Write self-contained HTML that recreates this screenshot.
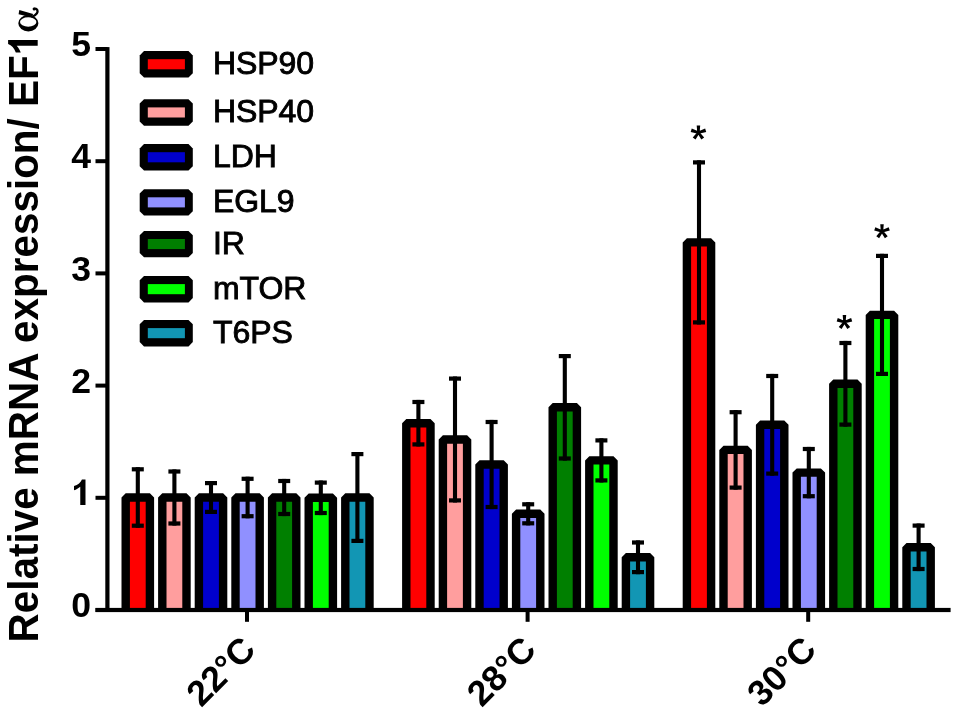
<!DOCTYPE html><html><head><meta charset="utf-8"><style>
html,body{margin:0;padding:0;background:#fff;}
svg{display:block;will-change:transform;}
text{font-family:"Liberation Sans",sans-serif;}
</style></head><body>
<svg width="957" height="715" viewBox="0 0 957 715" role="img" aria-label="Bar chart: Relative mRNA expression/ EF1α at 22°C, 28°C, 30°C"><title>Relative mRNA expression/ EF1α</title>
<defs><clipPath id="c"><rect x="0" y="0" width="957" height="610"/></clipPath></defs>
<g clip-path="url(#c)" stroke="#000" stroke-width="8.4" stroke-linejoin="bevel">
<rect x="125.70" y="497.50" width="24.2" height="122.50" fill="#ff0000"/>
<rect x="162.30" y="497.50" width="24.2" height="122.50" fill="#ff9e9e"/>
<rect x="198.90" y="497.50" width="24.2" height="122.50" fill="#0000cc"/>
<rect x="235.50" y="497.50" width="24.2" height="122.50" fill="#9090ff"/>
<rect x="272.10" y="497.50" width="24.2" height="122.50" fill="#007f00"/>
<rect x="308.70" y="497.80" width="24.2" height="122.20" fill="#00ff00"/>
<rect x="345.30" y="497.50" width="24.2" height="122.50" fill="#1296b4"/>
<rect x="406.30" y="423.20" width="24.2" height="196.80" fill="#ff0000"/>
<rect x="442.90" y="439.50" width="24.2" height="180.50" fill="#ff9e9e"/>
<rect x="479.50" y="464.50" width="24.2" height="155.50" fill="#0000cc"/>
<rect x="516.10" y="513.80" width="24.2" height="106.20" fill="#9090ff"/>
<rect x="552.70" y="407.30" width="24.2" height="212.70" fill="#007f00"/>
<rect x="589.30" y="460.40" width="24.2" height="159.60" fill="#00ff00"/>
<rect x="625.90" y="557.30" width="24.2" height="62.70" fill="#1296b4"/>
<rect x="686.90" y="242.40" width="24.2" height="377.60" fill="#ff0000"/>
<rect x="723.50" y="449.90" width="24.2" height="170.10" fill="#ff9e9e"/>
<rect x="760.10" y="424.80" width="24.2" height="195.20" fill="#0000cc"/>
<rect x="796.70" y="472.60" width="24.2" height="147.40" fill="#9090ff"/>
<rect x="833.30" y="383.80" width="24.2" height="236.20" fill="#007f00"/>
<rect x="869.90" y="314.90" width="24.2" height="305.10" fill="#00ff00"/>
<rect x="906.50" y="547.30" width="24.2" height="72.70" fill="#1296b4"/>
</g>
<g fill="#000">
<rect x="135.75" y="467.20" width="4.1" height="60.60"/>
<rect x="131.80" y="467.20" width="12" height="4.2"/>
<rect x="131.80" y="523.60" width="12" height="4.2"/>
<rect x="172.35" y="469.40" width="4.1" height="56.20"/>
<rect x="168.40" y="469.40" width="12" height="4.2"/>
<rect x="168.40" y="521.40" width="12" height="4.2"/>
<rect x="208.95" y="481.00" width="4.1" height="33.00"/>
<rect x="205.00" y="481.00" width="12" height="4.2"/>
<rect x="205.00" y="509.80" width="12" height="4.2"/>
<rect x="245.55" y="476.70" width="4.1" height="41.60"/>
<rect x="241.60" y="476.70" width="12" height="4.2"/>
<rect x="241.60" y="514.10" width="12" height="4.2"/>
<rect x="282.15" y="478.90" width="4.1" height="37.20"/>
<rect x="278.20" y="478.90" width="12" height="4.2"/>
<rect x="278.20" y="511.90" width="12" height="4.2"/>
<rect x="318.75" y="480.50" width="4.1" height="34.60"/>
<rect x="314.80" y="480.50" width="12" height="4.2"/>
<rect x="314.80" y="510.90" width="12" height="4.2"/>
<rect x="355.35" y="452.00" width="4.1" height="91.00"/>
<rect x="351.40" y="452.00" width="12" height="4.2"/>
<rect x="351.40" y="538.80" width="12" height="4.2"/>
<rect x="416.35" y="399.90" width="4.1" height="46.60"/>
<rect x="412.40" y="399.90" width="12" height="4.2"/>
<rect x="412.40" y="442.30" width="12" height="4.2"/>
<rect x="452.95" y="376.50" width="4.1" height="126.00"/>
<rect x="449.00" y="376.50" width="12" height="4.2"/>
<rect x="449.00" y="498.30" width="12" height="4.2"/>
<rect x="489.55" y="419.90" width="4.1" height="89.20"/>
<rect x="485.60" y="419.90" width="12" height="4.2"/>
<rect x="485.60" y="504.90" width="12" height="4.2"/>
<rect x="526.15" y="502.20" width="4.1" height="23.20"/>
<rect x="522.20" y="502.20" width="12" height="4.2"/>
<rect x="522.20" y="521.20" width="12" height="4.2"/>
<rect x="562.75" y="354.00" width="4.1" height="106.60"/>
<rect x="558.80" y="354.00" width="12" height="4.2"/>
<rect x="558.80" y="456.40" width="12" height="4.2"/>
<rect x="599.35" y="438.30" width="4.1" height="44.20"/>
<rect x="595.40" y="438.30" width="12" height="4.2"/>
<rect x="595.40" y="478.30" width="12" height="4.2"/>
<rect x="635.95" y="540.40" width="4.1" height="33.80"/>
<rect x="632.00" y="540.40" width="12" height="4.2"/>
<rect x="632.00" y="570.00" width="12" height="4.2"/>
<rect x="696.95" y="160.30" width="4.1" height="164.20"/>
<rect x="693.00" y="160.30" width="12" height="4.2"/>
<rect x="693.00" y="320.30" width="12" height="4.2"/>
<rect x="733.55" y="410.10" width="4.1" height="79.60"/>
<rect x="729.60" y="410.10" width="12" height="4.2"/>
<rect x="729.60" y="485.50" width="12" height="4.2"/>
<rect x="770.15" y="373.90" width="4.1" height="101.80"/>
<rect x="766.20" y="373.90" width="12" height="4.2"/>
<rect x="766.20" y="471.50" width="12" height="4.2"/>
<rect x="806.75" y="446.90" width="4.1" height="51.40"/>
<rect x="802.80" y="446.90" width="12" height="4.2"/>
<rect x="802.80" y="494.10" width="12" height="4.2"/>
<rect x="843.35" y="340.90" width="4.1" height="85.80"/>
<rect x="839.40" y="340.90" width="12" height="4.2"/>
<rect x="839.40" y="422.50" width="12" height="4.2"/>
<rect x="879.95" y="253.80" width="4.1" height="122.20"/>
<rect x="876.00" y="253.80" width="12" height="4.2"/>
<rect x="876.00" y="371.80" width="12" height="4.2"/>
<rect x="916.55" y="523.50" width="4.1" height="47.60"/>
<rect x="912.60" y="523.50" width="12" height="4.2"/>
<rect x="912.60" y="566.90" width="12" height="4.2"/>
</g>
<g fill="#000">
<rect x="105.3" y="47.1" width="4.2" height="564.9"/>
<rect x="95.5" y="607.9" width="855.1" height="4.2"/>
<rect x="95.5" y="608.00" width="12" height="4"/>
<rect x="95.5" y="495.80" width="12" height="4"/>
<rect x="95.5" y="383.60" width="12" height="4"/>
<rect x="95.5" y="271.40" width="12" height="4"/>
<rect x="95.5" y="159.20" width="12" height="4"/>
<rect x="95.5" y="47.00" width="12" height="4"/>
<rect x="245.00" y="610.0" width="4" height="11.8"/>
<rect x="525.60" y="610.0" width="4" height="11.8"/>
<rect x="806.20" y="610.0" width="4" height="11.8"/>
</g>
<g font-weight="bold" font-size="35.6" text-anchor="end">
<text x="91" y="617.10">0</text>
<path d="M0.237 1L0.435 1L0.435 0L0.30 0C0.26 0.115 0.15 0.21 0 0.26L0 0.427C0.09 0.4 0.17 0.35 0.237 0.29Z" transform="matrix(26.424,0,0,25.6,74,479.40)"/>
<text x="91" y="392.70">2</text>
<text x="91" y="280.50">3</text>
<text x="91" y="168.30">4</text>
<text x="91" y="56.10">5</text>
</g>
<g font-weight="bold" font-size="35.6" text-anchor="end">
<text transform="translate(257.40,651.7) rotate(-45)">22°C</text>
<text transform="translate(537.90,651.7) rotate(-45)">28°C</text>
<text transform="translate(818.20,651.7) rotate(-45)">30°C</text>
</g>
<text font-weight="bold" font-size="42.3" transform="translate(38,642.4) rotate(-90) scale(0.956,1)">Relative mRNA expression/ EF</text>
<path d="M0.237 1L0.435 1L0.435 0L0.30 0C0.26 0.115 0.15 0.21 0 0.26L0 0.427C0.09 0.4 0.17 0.35 0.237 0.29Z" transform="matrix(0,-28.736,29.6,0,8.1,52.5)"/>
<g transform="matrix(0,-1,1,0,18,31.5)"><path fill-rule="evenodd" d="M0 10.35A8.2 10.05 0 1 0 16.4 10.35A8.2 10.05 0 1 0 0 10.35Z M4.8 10.2A4.7 8.2 0 1 1 14.2 10.2A4.7 8.2 0 1 1 4.8 10.2Z"/><path d="M17.3 0.6L21.6 1.3L17.4 15.2L14.2 13.4Z"/><path d="M14.8 14.2Q18 20.6 21.2 19.4Q23.5 18.3 22.7 15.9" fill="none" stroke="#000" stroke-width="2.3" stroke-linecap="round"/><circle cx="22.4" cy="16.2" r="1.5"/></g>
<path d="M144.00 51.10L188.50 51.10L192.80 55.40L192.80 73.20L188.50 77.50L144.00 77.50L139.70 73.20L139.70 55.40Z"/>
<rect x="147.8" y="59.20" width="37.1" height="10.1" fill="#ff0000"/>
<text x="213" y="74.30" font-size="32" letter-spacing="-0.1" stroke="#000" stroke-width="0.9">HSP90</text>
<path d="M144.00 99.30L188.50 99.30L192.80 103.60L192.80 121.40L188.50 125.70L144.00 125.70L139.70 121.40L139.70 103.60Z"/>
<rect x="147.8" y="107.40" width="37.1" height="10.1" fill="#ff9e9e"/>
<text x="213" y="122.40" font-size="32" letter-spacing="-0.1" stroke="#000" stroke-width="0.9">HSP40</text>
<path d="M144.00 144.10L188.50 144.10L192.80 148.40L192.80 166.20L188.50 170.50L144.00 170.50L139.70 166.20L139.70 148.40Z"/>
<rect x="147.8" y="152.20" width="37.1" height="10.1" fill="#0000cc"/>
<text x="213" y="167.10" font-size="32" letter-spacing="-0.1" stroke="#000" stroke-width="0.9">LDH</text>
<path d="M144.00 189.20L188.50 189.20L192.80 193.50L192.80 211.30L188.50 215.60L144.00 215.60L139.70 211.30L139.70 193.50Z"/>
<rect x="147.8" y="197.30" width="37.1" height="10.1" fill="#9090ff"/>
<text x="213" y="211.90" font-size="32" letter-spacing="-0.1" stroke="#000" stroke-width="0.9">EGL9</text>
<path d="M144.00 230.90L188.50 230.90L192.80 235.20L192.80 253.00L188.50 257.30L144.00 257.30L139.70 253.00L139.70 235.20Z"/>
<rect x="147.8" y="239.00" width="37.1" height="10.1" fill="#007f00"/>
<text x="213" y="254.20" font-size="32" letter-spacing="-0.1" stroke="#000" stroke-width="0.9">IR</text>
<path d="M144.00 276.00L188.50 276.00L192.80 280.30L192.80 298.10L188.50 302.40L144.00 302.40L139.70 298.10L139.70 280.30Z"/>
<rect x="147.8" y="284.10" width="37.1" height="10.1" fill="#00ff00"/>
<text x="213" y="299.40" font-size="32" letter-spacing="-0.1" stroke="#000" stroke-width="0.9">mTOR</text>
<path d="M144.00 320.00L188.50 320.00L192.80 324.30L192.80 342.10L188.50 346.40L144.00 346.40L139.70 342.10L139.70 324.30Z"/>
<rect x="147.8" y="328.10" width="37.1" height="10.1" fill="#1296b4"/>
<text x="213" y="343.40" font-size="32" letter-spacing="-0.1" stroke="#000" stroke-width="0.9">T6PS</text>
<path d="M699.65 132.60L700.20 125.60L696.70 125.60L697.25 132.60Z M698.82 133.74L706.22 131.92L705.14 128.59L698.08 131.46Z M698.82 131.46L691.76 128.59L690.68 131.92L698.08 133.74Z M697.48 133.31L701.33 139.53L704.16 137.48L699.42 131.89Z M697.48 131.89L692.74 137.48L695.57 139.53L699.42 133.31Z M696.85 132.60a1.6 1.6 0 1 0 3.2 0a1.6 1.6 0 1 0 -3.2 0Z" fill="#000"/>
<path d="M845.65 322.10L846.20 315.10L842.70 315.10L843.25 322.10Z M844.82 323.24L852.22 321.42L851.14 318.09L844.08 320.96Z M844.82 320.96L837.76 318.09L836.68 321.42L844.08 323.24Z M843.48 322.81L847.33 329.03L850.16 326.98L845.42 321.39Z M843.48 321.39L838.74 326.98L841.57 329.03L845.42 322.81Z M842.85 322.10a1.6 1.6 0 1 0 3.2 0a1.6 1.6 0 1 0 -3.2 0Z" fill="#000"/>
<path d="M883.20 231.30L883.75 224.30L880.25 224.30L880.80 231.30Z M882.37 232.44L889.77 230.62L888.69 227.29L881.63 230.16Z M882.37 230.16L875.31 227.29L874.23 230.62L881.63 232.44Z M881.03 232.01L884.88 238.23L887.71 236.18L882.97 230.59Z M881.03 230.59L876.29 236.18L879.12 238.23L882.97 232.01Z M880.40 231.30a1.6 1.6 0 1 0 3.2 0a1.6 1.6 0 1 0 -3.2 0Z" fill="#000"/>
</svg></body></html>
